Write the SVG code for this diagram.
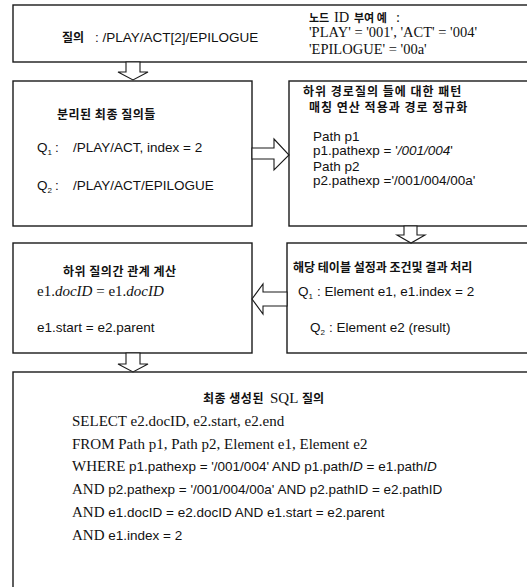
<svg xmlns="http://www.w3.org/2000/svg" width="527" height="587" viewBox="0 0 527 587">
<style>
.box{fill:#fff;stroke:#1a1a1a;stroke-width:1.4}
.arr{fill:#fff;stroke:#1a1a1a;stroke-width:1.1;stroke-linejoin:miter}
.ko{font-family:"Noto Sans CJK KR",sans-serif;font-weight:bold;font-size:12px;fill:#111}
.sans{font-family:"Liberation Sans",Arial,sans-serif;font-size:13.5px;fill:#111}
.serif{font-family:"Liberation Serif","Times New Roman",serif;font-size:15px;fill:#111}
.nid{font-family:"Liberation Serif","Times New Roman",serif;font-size:14.5px;fill:#111}
.kos{font-family:"Noto Sans CJK KR",sans-serif;font-weight:bold;font-size:11px;fill:#111}
.sub{font-size:8px}
.it{font-style:italic}
</style>
<rect width="527" height="587" fill="#fff"/>
<g id="query">
<rect class="box" x="13" y="5" width="520" height="57"/>
<text class="ko" x="62" y="42">질의</text>
<text class="sans" x="95" y="42">: /PLAY/ACT[2]/EPILOGUE</text>
<text class="kos" x="309" y="22">노드</text>
<text class="nid" x="334" y="22">ID</text>
<text class="kos" x="354" y="22">부여 예</text>
<text class="nid" x="396" y="22">:</text>
<text class="nid" x="309" y="37">'PLAY' = '001', 'ACT' = '004'</text>
<text class="nid" x="309" y="54">'EPILOGUE' = '00a'</text>
</g>
<g id="split">
<rect class="box" x="13" y="81" width="239" height="145"/>
<text class="ko" x="57" y="119" letter-spacing="0.5">분리된 최종 질의들</text>
<text class="sans" x="37" y="152">Q<tspan class="sub" dy="3">1</tspan><tspan dy="-3" dx="3">:</tspan><tspan x="73">/PLAY/ACT, index = 2</tspan></text>
<text class="sans" x="37" y="190">Q<tspan class="sub" dy="3">2</tspan><tspan dy="-3" dx="3">:</tspan><tspan x="73">/PLAY/ACT/EPILOGUE</tspan></text>
</g>
<g id="pattern">
<rect class="box" x="289" y="81" width="244" height="145"/>
<text class="ko" x="303" y="96" letter-spacing="1">하위 경로질의 들에 대한 패턴</text>
<text class="ko" x="309" y="112" letter-spacing="1">매칭 연산 적용과 경로 정규화</text>
<text class="sans" x="313" y="141">Path p1</text>
<text class="sans" x="313" y="155">p1.pathexp = '<tspan class="it">/001/004</tspan>'</text>
<text class="sans" x="313" y="171">Path p2</text>
<text class="sans" x="313" y="185">p2.pathexp ='/001/004/00a'</text>
</g>
<g id="relation">
<rect class="box" x="13" y="243" width="239" height="110"/>
<text class="ko" x="63" y="276" letter-spacing="0.5">하위 질의간 관계 계산</text>
<text class="serif" x="37" y="296">e1.<tspan class="it">docID</tspan> = e1.<tspan class="it">docID</tspan></text>
<text class="sans" x="37" y="332">e1.start = e2.parent</text>
</g>
<g id="tables">
<rect class="box" x="287" y="243" width="246" height="110"/>
<text class="ko" x="293" y="272">해당 테이블 설정과 조건및 결과 처리</text>
<text class="sans" x="298" y="296">Q<tspan class="sub" dy="3">1</tspan><tspan dy="-3" dx="4">: Element e1, e1.index = 2</tspan></text>
<text class="sans" x="310" y="332">Q<tspan class="sub" dy="3">2</tspan><tspan dy="-3" dx="4">: Element e2 (result)</tspan></text>
</g>
<g id="sql">
<rect class="box" x="13" y="372" width="520" height="220"/>
<text class="ko" x="203" y="403" letter-spacing="0.5">최종 생성된</text>
<text class="serif" x="270" y="403">SQL</text>
<text class="ko" x="302" y="403">질의</text>
<text class="serif" x="72" y="426">SELECT e2.docID, e2.start, e2.end</text>
<text class="serif" x="72" y="449">FROM Path p1, Path p2, Element e1, Element e2</text>
<text x="72" y="471"><tspan class="serif">WHERE </tspan><tspan class="sans">p1.pathexp = '/001/004' AND p1.path<tspan class="it">ID</tspan> = e1.path<tspan class="it">ID</tspan></tspan></text>
<text x="72" y="494"><tspan class="serif">AND </tspan><tspan class="sans">p2.pathexp = '/001/004/00a' AND p2.pathID = e2.pathID</tspan></text>
<text x="72" y="517"><tspan class="serif">AND </tspan><tspan class="sans">e1.docID = e2.docID AND e1.start = e2.parent</tspan></text>
<text x="72" y="540"><tspan class="serif">AND </tspan><tspan class="sans">e1.index = 2</tspan></text>
</g>
<g id="connectors">
<polygon class="arr" points="126,62 126,72 118,72 133,80 148,72 140,72 140,62"/>
<polygon class="arr" points="252,148 274,148 274,139 289,155 274,170 274,159 252,159"/>
<polygon class="arr" points="404,226 404,235 397,235 411,243 425,235 417,235 417,226"/>
<polygon class="arr" points="287,292 263,292 263,284 252,299 263,314 263,306 287,306"/>
<polygon class="arr" points="126,353 126,364 118,364 133,372 148,364 140,364 140,353"/>
</g>
</svg>
